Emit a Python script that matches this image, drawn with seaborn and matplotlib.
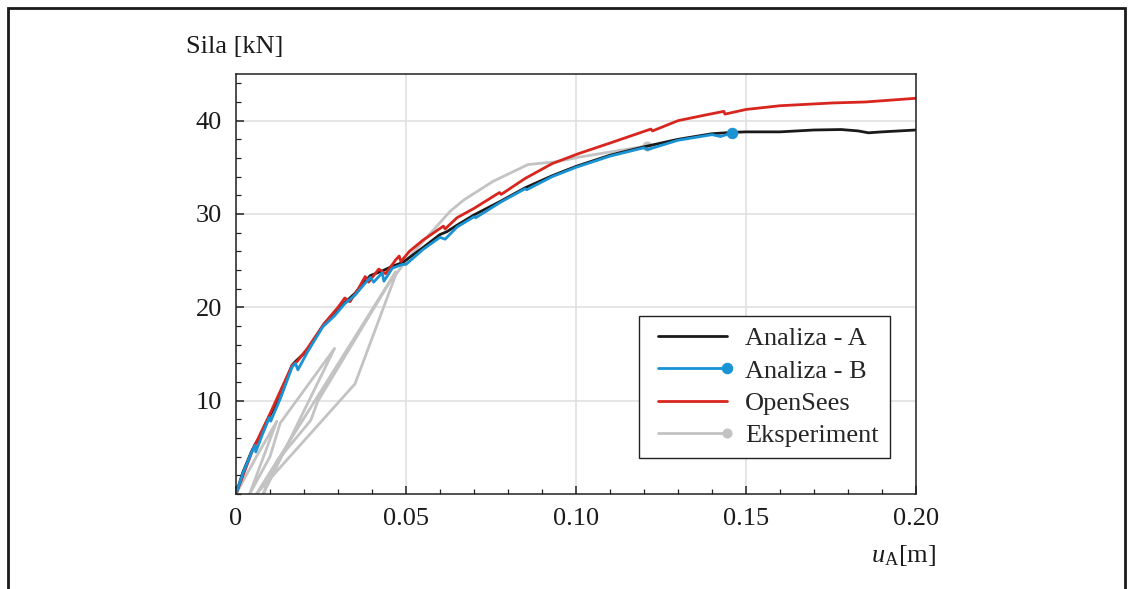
import numpy as np
import pandas as pd
import matplotlib
matplotlib.use("Agg")
import matplotlib.pyplot as plt
from matplotlib.patches import Rectangle
import seaborn as sns

# --- data (u in m, F in kN) ---
u_B = [0, 0.002, 0.0045, 0.0056, 0.0058, 0.008, 0.0098, 0.0102, 0.013, 0.0165,
       0.0175, 0.0182, 0.021, 0.0255, 0.029, 0.032, 0.035, 0.038, 0.0395, 0.0405,
       0.043, 0.0435, 0.046, 0.049, 0.05, 0.055, 0.06, 0.0615, 0.065, 0.07,
       0.0705, 0.078, 0.085, 0.0855, 0.093, 0.1, 0.11, 0.12, 0.121, 0.13,
       0.14, 0.1425, 0.146]
F_B = [0, 2.2, 4.4, 5.2, 4.5, 6.6, 8.2, 7.8, 10.2, 13.6,
       14.0, 13.3, 15.2, 17.9, 19.1, 20.4, 21.3, 22.6, 23.2, 22.7,
       23.7, 22.8, 24.2, 24.6, 24.6, 26.2, 27.5, 27.3, 28.6, 29.7,
       29.6, 31.3, 32.7, 32.6, 34.0, 35.0, 36.2, 37.1, 36.9, 37.9,
       38.5, 38.3, 38.7]

u_A = [0, 0.002, 0.0045, 0.0056, 0.008, 0.0098, 0.013, 0.0165, 0.0175, 0.021,
       0.0255, 0.029, 0.032, 0.035, 0.038, 0.0395, 0.043, 0.046, 0.049, 0.055,
       0.06, 0.062, 0.065, 0.07, 0.078, 0.085, 0.093, 0.1, 0.11, 0.12,
       0.13, 0.14, 0.146, 0.15, 0.16, 0.17, 0.178, 0.183, 0.186, 0.19, 0.2]
F_A = [0, 2.3, 4.5, 5.3, 6.7, 8.3, 10.3, 13.8, 14.2, 15.4,
       18.0, 19.3, 20.5, 21.5, 22.8, 23.4, 23.9, 24.4, 24.8, 26.4,
       27.8, 28.1, 28.8, 29.9, 31.4, 32.8, 34.1, 35.1, 36.3, 37.2,
       38.0, 38.6, 38.75, 38.8, 38.8, 39.0, 39.05, 38.9, 38.7, 38.8, 39.0]

u_OS = [0, 0.005, 0.01, 0.0165, 0.018, 0.021, 0.026, 0.03, 0.032, 0.0335,
        0.036, 0.038, 0.039, 0.042, 0.044, 0.047, 0.048, 0.0485, 0.051, 0.055,
        0.061, 0.0615, 0.065, 0.07, 0.0775, 0.078, 0.085, 0.093, 0.101, 0.11,
        0.122, 0.1225, 0.13, 0.138, 0.1435, 0.1438, 0.15, 0.16, 0.1756, 0.185,
        0.2]
F_OS = [0, 4.8, 8.6, 13.8, 14.2, 15.6, 18.3, 20.0, 21.0, 20.6,
        22.0, 23.3, 22.7, 24.1, 23.6, 25.1, 25.5, 24.9, 26.0, 27.2,
        28.7, 28.4, 29.6, 30.6, 32.3, 32.1, 33.8, 35.4, 36.5, 37.6,
        39.1, 38.9, 40.0, 40.6, 41.0, 40.7, 41.2, 41.6, 41.9, 42.0,
        42.4]

u_exp = [0, 0.006, 0.012, 0.004, 0.010, 0.013, 0.029, 0.008, 0.012, 0.022,
         0.024, 0.047, 0.006, 0.035, 0.047, 0.050, 0.063, 0.067, 0.0756, 0.0859,
         0.0943, 0.101, 0.121]
F_exp = [0, 4.0, 7.8, 0.0, 4.0, 7.6, 15.6, 0.0, 3.5, 7.9,
         9.9, 23.8, 0.0, 11.8, 23.5, 25.0, 30.3, 31.5, 33.5, 35.3,
         35.6, 36.1, 37.3]

labels = ["Analiza - A", "Analiza - B", "OpenSees", "Eksperiment"]

sns.set_style("ticks")
plt.rcParams["font.family"] = ["Liberation Serif", "DejaVu Serif"]
plt.rcParams["mathtext.fontset"] = "custom"
plt.rcParams["mathtext.rm"] = "Liberation Serif"
plt.rcParams["mathtext.it"] = "Liberation Serif:italic"

fig = plt.figure(figsize=(11.31, 5.89), dpi=100)
ax = fig.add_axes([236 / 1131, 1 - 494 / 589, 680 / 1131, 420 / 589])

lw = 2.0
c_exp, c_A, c_B, c_OS = "#c3c3c3", "#1a1a1a", "#1a93d5", "#d8261f"

df_exp = pd.DataFrame({"u": u_exp, "F": F_exp})
df_A = pd.DataFrame({"u": u_A, "F": F_A})
df_OS = pd.DataFrame({"u": u_OS, "F": F_OS})
df_B = pd.DataFrame({"u": u_B, "F": F_B})

sns.lineplot(data=df_exp, x="u", y="F", sort=False, estimator=None, ax=ax,
             color=c_exp, lw=lw, marker="o", markevery=[-1], markersize=6.5,
             markeredgecolor=c_exp, label=labels[3])
sns.lineplot(data=df_A, x="u", y="F", sort=False, estimator=None, ax=ax,
             color=c_A, lw=lw, label=labels[0])
sns.lineplot(data=df_OS, x="u", y="F", sort=False, estimator=None, ax=ax,
             color=c_OS, lw=lw, label=labels[2])
sns.lineplot(data=df_B, x="u", y="F", sort=False, estimator=None, ax=ax,
             color=c_B, lw=lw, marker="o", markevery=[-1], markersize=7.5,
             markeredgecolor=c_B, label=labels[1])

ax.set_xlim(0, 0.2)
ax.set_ylim(0, 45)
ax.set_xticks([0, 0.05, 0.10, 0.15, 0.20])
ax.set_xticklabels(["0", "0.05", "0.10", "0.15", "0.20"])
ax.set_yticks([10, 20, 30, 40])
ax.set_xticks(np.arange(0, 0.2001, 0.01), minor=True)
ax.set_yticks(np.arange(0, 45, 2), minor=True)
ax.grid(True, which="major", color="#e0e0e0", lw=1.2)
ax.set_axisbelow(True)
for s in ax.spines.values():
    s.set_visible(True)
    s.set_color("#222222")
    s.set_linewidth(1.1)
ax.tick_params(which="both", direction="in", colors="#222222", labelsize=19,
               labelcolor="#1a1a1a", top=False, right=False)
ax.tick_params(which="major", length=6, width=1.1, pad=10)
ax.tick_params(which="minor", length=3.5, width=0.9)
ax.set_xlabel("")
ax.set_ylabel("")

fig.text(235 / 1131, 1 - 47 / 589, "Sila [kN]", fontsize=19, ha="center",
         va="center", color="#1a1a1a")
fig.text(904 / 1131, 1 - 556 / 589, r"$u_{\mathrm{A}}$[m]", fontsize=19,
         ha="center", va="center", color="#1a1a1a")

handles = {ln.get_label(): ln for ln in ax.get_lines()}
leg = ax.legend([handles[l] for l in labels], labels, loc="lower right",
                bbox_to_anchor=(654 / 680, 36 / 420), borderaxespad=0,
                fontsize=19, frameon=True, fancybox=False,
                edgecolor="#222222", framealpha=1, numpoints=2,
                handlelength=3.2, labelspacing=0.33, borderpad=0.42,
                handletextpad=0.4)
leg.get_frame().set_linewidth(1.0)
# marker only at the right end of the legend sample line
for ln in leg.get_lines():
    ln.set_markevery([-1])

# outer frame of the figure panel
fig.patches.append(Rectangle((8 / 1131, -0.2), 1117 / 1131, 1.2 - 8 / 589,
                             transform=fig.transFigure, fill=False,
                             edgecolor="#1a1a1a", lw=2, clip_on=False))

fig.savefig("out.png", dpi=100)
